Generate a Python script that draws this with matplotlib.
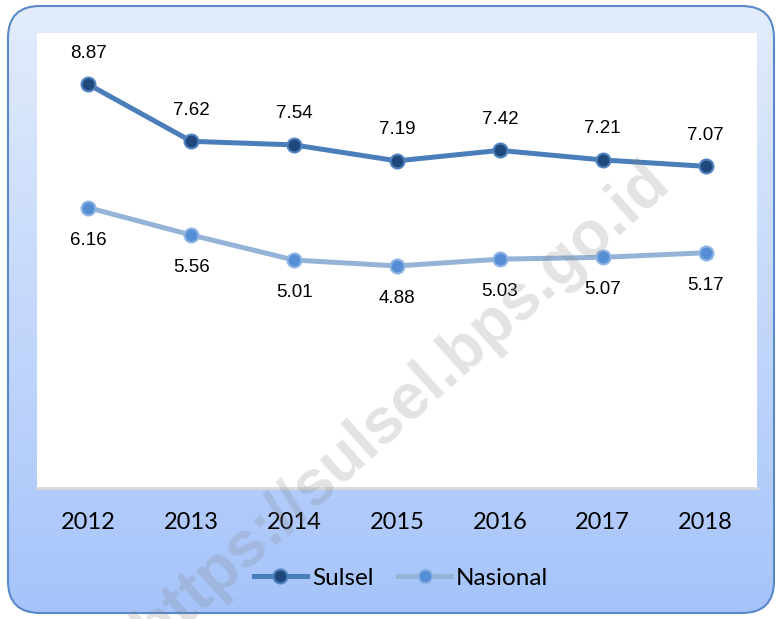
import numpy as np
import matplotlib.pyplot as plt
from matplotlib.patches import FancyBboxPatch

years = ["2012", "2013", "2014", "2015", "2016", "2017", "2018"]
sulsel = [8.87, 7.62, 7.54, 7.19, 7.42, 7.21, 7.07]
nasional = [6.16, 5.56, 5.01, 4.88, 5.03, 5.07, 5.17]

W, H = 782, 619
fig = plt.figure(figsize=(W / 100, H / 100), dpi=100)

# rounded gradient panel behind the chart
bg = fig.add_axes([0, 0, 1, 1])
bg.set_xlim(0, W)
bg.set_ylim(0, H)
bg.axis("off")
top = np.array([226, 236, 252]) / 255
bottom = np.array([166, 196, 250]) / 255
t = np.linspace(0, 1, 256)[:, None]
grad = top * (1 - t[..., None]) + bottom * t[..., None]
grad = np.repeat(grad, 2, axis=1)
box = FancyBboxPatch((8, 6), W - 16, H - 12, boxstyle="round,pad=0,rounding_size=32",
                     facecolor="none", edgecolor="#5A88C8", linewidth=1.5, zorder=3)
bg.add_patch(box)
im = bg.imshow(grad, extent=(8, W - 8, 6, H - 6), aspect="auto", origin="upper", zorder=1)
im.set_clip_path(box)

ax = fig.add_axes([37 / W, 131 / H, 720 / W, 455 / H])
ax.set_facecolor("white")
x = np.arange(len(years))

ax.plot(x, sulsel, color="#4A7EBB", lw=3.6, marker="o", ms=10,
        mfc="#1F497D", mec="#4F81BD", mew=1.5, label="Sulsel", zorder=3)
ax.plot(x, nasional, color="#95B3D7", lw=3.6, marker="o", ms=10,
        mfc="#558ED5", mec="#8EB4E3", mew=1.5, label="Nasional", zorder=3)

for xi, v in zip(x, sulsel):
    ax.annotate(f"{v:.2f}", (xi, v), xytext=(0, 22.5), textcoords="offset points",
                ha="center", va="center", fontsize=13.5, family="Liberation Sans")
for xi, v in zip(x, nasional):
    ax.annotate(f"{v:.2f}", (xi, v), xytext=(0, -23.5), textcoords="offset points",
                ha="center", va="center", fontsize=13.5, family="Liberation Sans")

ax.set_xlim(-0.5, len(years) - 0.5)
ax.set_ylim(0, 10)
ax.set_yticks([])
ax.set_xticks(x)
ax.set_xticklabels(years, fontsize=17, family="Lato")
ax.tick_params(axis="x", length=0, pad=17)
for s in ["top", "left", "right"]:
    ax.spines[s].set_visible(False)
ax.spines["bottom"].set_color("#D9D9D9")
ax.spines["bottom"].set_linewidth(2)

fig.legend(loc="center", bbox_to_anchor=(401 / W, 1 - 578 / H), ncol=2, frameon=False,
           prop={"family": "Lato", "size": 17.5}, handlelength=2.2, handletextpad=0.2,
           columnspacing=1.0)

# watermark
fig.text(402 / W, 1 - 405 / H, "https://sulsel.bps.go.id", rotation=42,
         rotation_mode="anchor", ha="center", va="center", fontsize=46,
         family="Liberation Sans", weight="bold", color="#808080", alpha=0.22, zorder=10)

fig.savefig("out.png", dpi=100)
